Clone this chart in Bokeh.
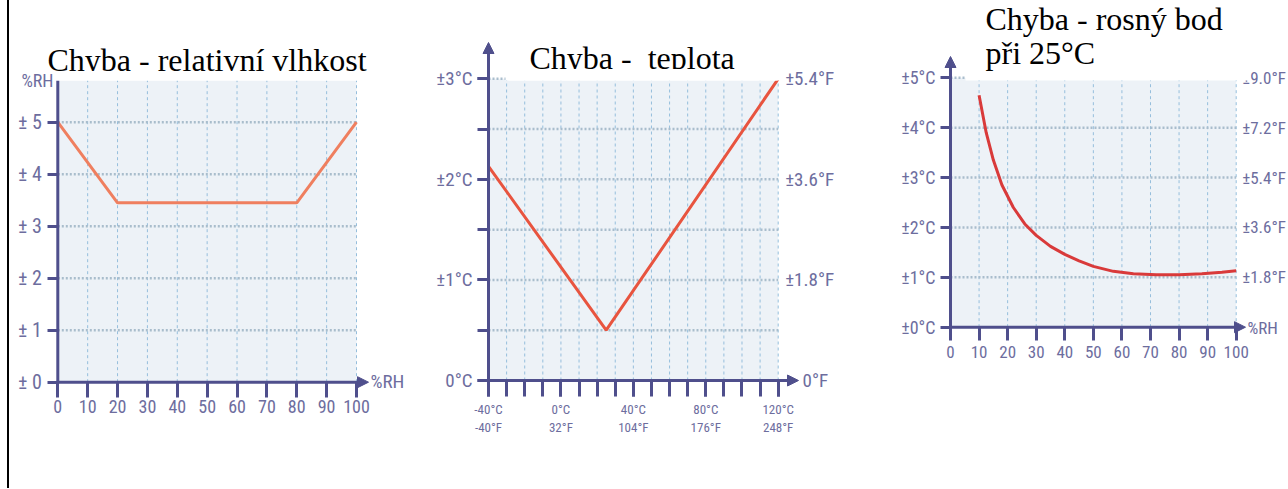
from bokeh.plotting import figure
from bokeh.models import (Range1d, LinearAxis, FixedTicker, Arrow, NormalHead,
                          Label, BoxAnnotation, Div)
from bokeh.layouts import row
from bokeh.embed import file_html
from bokeh.resources import INLINE

# ---------------- data ----------------
# panel 1: relative humidity error
rh_x = [0, 20, 80, 100]
rh_err = [5.0, 3.45, 3.45, 5.0]
rh_xticks = [0, 10, 20, 30, 40, 50, 60, 70, 80, 90, 100]
rh_yticks = [0, 1, 2, 3, 4, 5]
rh_ylabels = ["± 0", "± 1", "± 2", "± 3", "± 4", "± 5"]

# panel 2: temperature error
t_x = [-40, 25, 120]
t_err = [2.13, 0.5, 3.0]
t_major_x = [-40, 0, 40, 80, 120]
t_xlabels = ["-40°C\n-40°F", "0°C\n32°F", "40°C\n104°F", "80°C\n176°F", "120°C\n248°F"]
t_minor_x = [-40, -30, -20, -10, 0, 10, 20, 30, 40, 50, 60, 70, 80, 90, 100, 110, 120]
t_yticks = [0, 1, 2, 3]
t_minor_y = [0, 0.5, 1, 1.5, 2, 2.5, 3]
t_ylabels_c = ["0°C", "±1°C", "±2°C", "±3°C"]
t_yticks_f = [1, 2, 3]
t_ylabels_f = ["±1.8°F", "±3.6°F", "±5.4°F"]

# panel 3: dew point error at 25 °C
dp_x = [10, 12.5, 15, 18, 22, 26, 30, 35, 40, 45, 50, 57, 64, 72, 80, 88, 95, 100]
dp_err = [4.65, 3.9, 3.35, 2.85, 2.4, 2.07, 1.84, 1.62, 1.46, 1.33, 1.22, 1.12,
          1.07, 1.05, 1.05, 1.07, 1.1, 1.13]
dp_xticks = [0, 10, 20, 30, 40, 50, 60, 70, 80, 90, 100]
dp_yticks = [0, 1, 2, 3, 4, 5]
dp_ylabels_c = ["±0°C", "±1°C", "±2°C", "±3°C", "±4°C", "±5°C"]
dp_yticks_f = [1, 2, 3, 4, 5]
dp_ylabels_f = ["±1.8°F", "±3.6°F", "±5.4°F", "±7.2°F", "±9.0°F"]

title1 = "Chyba - relativní vlhkost"
title2 = "Chyba - \u00a0teplota"
title3a = "Chyba - rosný bod"
title3b = "při 25°C"

# ---------------- style ----------------
AX = "#4f4f8c"
LBL = "#6d6d9e"
BG = "#edf2f7"
VGRID = "#95bedc"
HGRID = "#a9bdcc"
NARROW = "Roboto Condensed"
SERIF = "Liberation Serif"
FIG_TOP = 0
FIG_H = 488


class Panel:
    """Maps page pixels to data units for one chart panel."""
    def __init__(self, left, width, xa, xva, xb, xvb, ya, yva, yb, yvb):
        self.left, self.width = left, width
        self.xa, self.xva, self.sx = xa, xva, (xb - xa) / (xvb - xva)
        self.ya, self.yva, self.sy = ya, yva, (yb - ya) / (yvb - yva)

    def X(self, px):
        return self.xva + (px - self.xa) / self.sx

    def Y(self, py):
        return self.yva + (py - self.ya) / self.sy

    def figure(self):
        p = figure(width=self.width, height=FIG_H,
                   x_range=Range1d(self.X(self.left), self.X(self.left + self.width)),
                   y_range=Range1d(self.Y(FIG_TOP + FIG_H), self.Y(FIG_TOP)),
                   x_axis_type=None, y_axis_type=None,
                   output_backend="svg", toolbar_location=None, min_border=0)
        p.outline_line_color = None
        p.background_fill_color = "white"
        p.border_fill_color = "white"
        return p


def plot_area(p, x0, x1, top, xgrid, ygrid):
    p.quad(left=[x0], right=[x1], bottom=[0], top=[top], fill_color=BG, line_color=None)
    p.segment(x0=xgrid, y0=[0] * len(xgrid), x1=xgrid, y1=[top] * len(xgrid),
              line_color=VGRID, line_width=1, line_dash="3 3")
    p.segment(x0=[x0] * len(ygrid), y0=ygrid, x1=[x1] * len(ygrid), y1=ygrid,
              line_color=HGRID, line_width=2.5, line_dash="2 2")


def axis(loc, ticks, labels, minor=None, tick_out=10, standoff=5, size="17px",
         ticks_visible=True):
    ax = LinearAxis(fixed_location=loc,
                    ticker=FixedTicker(ticks=ticks, minor_ticks=minor or []),
                    major_label_overrides={t: l for t, l in zip(ticks, labels)})
    ax.axis_line_color = None
    ax.major_label_text_font = NARROW
    ax.major_label_text_font_size = size
    ax.major_label_text_color = LBL
    ax.major_label_standoff = standoff
    ax.major_tick_in = 0
    ax.minor_tick_in = 0
    if ticks_visible:
        ax.major_tick_out = tick_out
        ax.minor_tick_out = tick_out
        ax.major_tick_line_color = AX
        ax.minor_tick_line_color = AX
        ax.major_tick_line_width = 3
        ax.minor_tick_line_width = 3
    else:
        ax.major_tick_out = 0
        ax.minor_tick_out = 0
        ax.major_tick_line_color = None
        ax.minor_tick_line_color = None
    return ax


def axis_line(p, xs, ys, xe, ye, head=True):
    p.add_layout(Arrow(x_start=xs, y_start=ys, x_end=xe, y_end=ye,
                       line_color=AX, line_width=3,
                       end=NormalHead(size=11, fill_color=AX, line_color=AX, line_width=1)
                       if head else None))


def title_box(p, pn, l, r, t, b):
    p.add_layout(BoxAnnotation(left=pn.X(l), right=pn.X(r), top=pn.Y(t), bottom=pn.Y(b),
                               fill_color="white", fill_alpha=1.0, line_color=None))


def title_text(p, pn, px, baseline, text):
    # "middle" centres the em box; for the serif face the baseline is ~0.34em below it
    p.add_layout(Label(x=pn.X(px), y=pn.Y(baseline - 10.8), text=text, text_font=SERIF,
                       text_font_size="32px", text_color="black",
                       text_baseline="middle", text_align="left"))


def side_label(p, pn, px, py, text, size="18px", align="left"):
    p.add_layout(Label(x=pn.X(px), y=pn.Y(py), text=text, text_font=NARROW,
                       text_font_size=size, text_color=LBL,
                       text_baseline="middle", text_align=align))


# ---------------- panel 1 ----------------
P1 = Panel(9, 421, 57.3, 0, 356.0, 100, 381.7, 0, 121.7, 5)
p1 = P1.figure()
top1 = P1.Y(79)
plot_area(p1, 0, 100, top1, rh_xticks[1:], rh_yticks[1:])
p1.line(rh_x, rh_err, line_color="#ef7f5f", line_width=3)
p1.add_layout(axis(0, rh_yticks, rh_ylabels, tick_out=10, standoff=6, size="20px"), "left")
p1.add_layout(axis(0, rh_xticks, [str(v) for v in rh_xticks], tick_out=15,
                   standoff=3, size="18px"), "below")
axis_line(p1, P1.X(56), 0, P1.X(368), 0)
axis_line(p1, 0, P1.Y(383), 0, top1, head=False)
side_label(p1, P1, 370, 381, "%RH", size="19px")
title_box(p1, P1, 47, 367, 38, 80)
title_text(p1, P1, 47, 70, title1)
title_box(p1, P1, 44, 370, 70.6, 80)
side_label(p1, P1, 53, 80, "%RH", align="right")

# ---------------- panel 2 ----------------
P2 = Panel(430, 430, 488.0, -40, 777.7, 120, 380.0, 0, 78.3, 3)
p2 = P2.figure()
plot_area(p2, -40, 120, 3, t_minor_x[1:], t_minor_y[1:])
p2.line(t_x, t_err, line_color="#e8543f", line_width=3)
p2.add_layout(axis(-40, t_yticks, t_ylabels_c, minor=t_minor_y, tick_out=11,
                   standoff=5, size="19px"), "left")
p2.add_layout(axis(120, t_yticks_f, t_ylabels_f, standoff=7, size="19px",
                   ticks_visible=False), "right")
p2.add_layout(axis(0, t_major_x, t_xlabels, minor=t_minor_x, tick_out=16,
                   standoff=5, size="13px"), "below")
axis_line(p2, P2.X(486.5), 0, P2.X(798), 0)
axis_line(p2, -40, P2.Y(381.5), -40, P2.Y(42))
side_label(p2, P2, 802, 380, "0°F", size="19px")
title_box(p2, P2, 508, 777, 38, 80)
title_text(p2, P2, 529, 68, title2)
title_box(p2, P2, 505, 780, 68.6, 80)

# ---------------- panel 3 ----------------
P3 = Panel(860, 428, 950.0, 0, 1235.7, 100, 326.7, 0, 77.3, 5)
p3 = P3.figure()
plot_area(p3, 0, 100, 5, dp_xticks[1:], dp_yticks[1:])
p3.line(dp_x, dp_err, line_color="#d93a3a", line_width=3)
p3.add_layout(axis(0, dp_yticks, dp_ylabels_c, tick_out=10, standoff=5, size="18px"), "left")
p3.add_layout(axis(100, dp_yticks_f, dp_ylabels_f, standoff=6, size="17px",
                   ticks_visible=False), "right")
p3.add_layout(axis(0, dp_xticks, [str(v) for v in dp_xticks], tick_out=13,
                   standoff=6, size="17px"), "below")
axis_line(p3, P3.X(948.5), 0, P3.X(1245), 0)
axis_line(p3, 0, P3.Y(328.2), 0, P3.Y(56))
side_label(p3, P3, 1247, 327, "%RH", size="17px")
title_box(p3, P3, 965, 1250, 0, 80)
title_text(p3, P3, 985, 29, title3a)
title_text(p3, P3, 985, 63, title3b)

border = Div(width=2, height=FIG_H, margin=(0, 0, 0, 7),
             styles={"background-color": "black"})
layout = row(border, p1, p2, p3, spacing=0)

open("out.html", "w").write(file_html(layout, INLINE))
